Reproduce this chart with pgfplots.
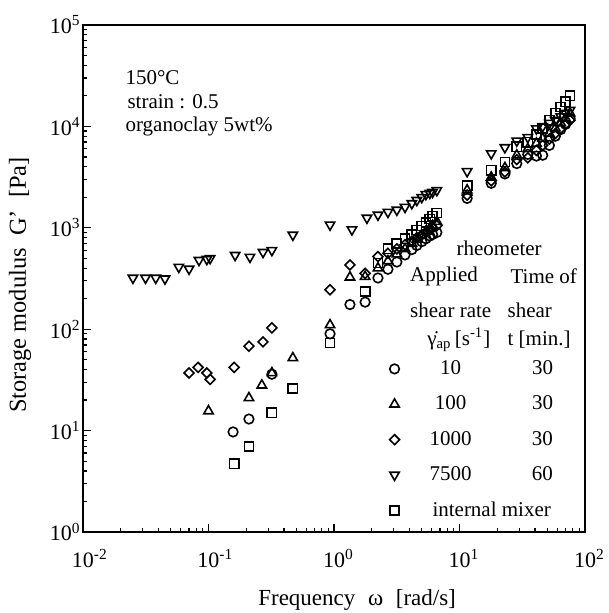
\documentclass[border=0pt]{standalone}
\usepackage{pgfplots}
\pgfplotsset{compat=1.18}
\usepackage{fontspec}
\setmainfont{Liberation Serif}

\pgfplotstableread{
x y
0.157 9.7
0.21 13
0.32 36
0.93 90
1.34 175
1.77 185
2.24 320
2.69 390
3.17 460
3.68 540
4.17 610
4.57 670
5.0 730
5.4 780
5.8 830
6.1 860
6.6 900
11.5 1950
17.9 2750
23 3400
28.6 4300
35 5300
41 5100
46 5200
52 6500
58 8000
64 9300
70 10500
76 12000
}\circdata

\pgfplotstableread{
x y
0.10 15.6
0.21 21
0.266 28
0.32 37
0.47 52
0.93 110
1.34 325
1.77 330
2.24 400
2.69 470
3.17 550
3.68 620
4.17 700
4.57 770
5.0 850
5.4 920
5.8 990
6.1 1050
6.6 1150
11.5 2350
17.9 3150
23 3900
28.6 5200
35 6000
41 6800
46 7600
52 8500
58 9600
64 10800
70 12000
76 13500
}\tridata

\pgfplotstableread{
x y
0.07 37
0.0826 42
0.097 37
0.103 32
0.16 42
0.21 68
0.272 75
0.32 103
0.93 245
1.34 430
1.77 355
2.24 520
2.69 560
3.17 620
3.68 680
4.17 740
4.57 800
5.0 850
5.4 900
5.8 950
6.1 1000
6.6 1050
11.5 2100
17.9 2900
23 3550
28.6 4700
35 4900
41 5800
46 6500
52 7500
58 8500
64 9500
70 10500
76 11500
}\diadata

\pgfplotstableread{
x y
0.025 320
0.0315 320
0.038 320
0.045 315
0.058 410
0.07 393
0.084 479
0.097 490
0.103 500
0.163 537
0.214 515
0.272 575
0.32 600
0.47 850
0.93 1070
1.39 960
1.83 1250
2.24 1340
2.69 1430
3.17 1500
3.68 1600
4.17 1740
4.57 1870
5.0 2000
5.4 2140
5.8 2200
6.1 2250
6.6 2340
11.5 3600
17.9 5400
23 6200
28.6 7200
35 7800
41 9500
46 10000
52 10800
58 11500
64 12500
70 13500
76 14500
}\dtridata

\pgfplotstableread{
x y
0.16 4.7
0.21 7.0
0.32 15
0.47 26
0.93 73
1.77 235
2.24 450
2.69 620
3.17 700
3.68 780
4.17 860
4.57 950
5.0 1040
5.4 1130
5.8 1220
6.1 1300
6.6 1400
11.5 2600
17.9 3700
23 4450
28.6 6300
35 7000
41 8300
46 9500
52 11500
58 13500
64 15500
70 17500
76 20000
}\sqdata

\begin{document}
\begin{tikzpicture}
\begin{axis}[name=ax, scale only axis, width=251pt, height=253.5pt,
  xmode=log, ymode=log, xmin=0.01, xmax=100, ymin=1, ymax=100000,
  xtick={0.01,0.1,1,10,100},
  xticklabels={10\rlap{\textsuperscript{-2}},10\rlap{\textsuperscript{-1}},10\rlap{\textsuperscript{0}},10\rlap{\textsuperscript{1}},10\rlap{\textsuperscript{2}}},
  ytick={1,10,100,1000,10000,100000},
  yticklabels={10\textsuperscript{0},10\textsuperscript{1},10\textsuperscript{2},10\textsuperscript{3},10\textsuperscript{4},10\textsuperscript{5}},
  tick align=inside, xtick pos=bottom, ytick pos=left,
  major tick length=4pt, minor tick length=2pt,
  axis line style={line width=0.9pt},
  tick style={black, line width=0.6pt},
  ticklabel style={font=\fontsize{11}{13}\selectfont},
  yticklabel style={inner xsep=1pt},
  xticklabel style={yshift=-5pt},
  xlabel={Frequency\hspace{0.55em}ω\hspace{0.55em}[rad/s]},
  ylabel={Storage modulus\hspace{0.5em}G'\hspace{0.5em}[Pa]},
  xlabel style={font=\fontsize{11.5}{14}\selectfont, at={(axis description cs:0.546,-0.134)}, anchor=center},
  ylabel style={font=\fontsize{12.2}{14}\selectfont, at={(axis description cs:-0.1255,0.487)}, anchor=center},
  legend style={draw=none, fill=none, at={(axis description cs:0.598,0.355)}, anchor=north west,
    font=\fontsize{10.5}{12}\selectfont, row sep=5.2pt},
  legend cell align=left,
]
\addplot[black, only marks, mark=o, mark size=2.4pt, line width=0.8pt] table {\circdata};
\addlegendentry{\hspace*{14.5pt}\makebox[18pt]{10}\makebox[74pt]{30}}
\addplot[black, only marks, mark=triangle, mark size=2.7pt, line width=0.8pt] table {\tridata};
\addlegendentry{\hspace*{14.5pt}\makebox[18pt]{100}\makebox[74pt]{30}}
\addplot[black, only marks, mark=square, mark options={rotate=45}, mark size=1.75pt, line width=0.8pt] table {\diadata};
\addlegendentry{\hspace*{14.5pt}\makebox[18pt]{1000}\makebox[74pt]{30}}
\addplot[black, only marks, mark=triangle, mark options={rotate=180}, mark size=2.7pt, line width=0.8pt] table {\dtridata};
\addlegendentry{\hspace*{14.5pt}\makebox[18pt]{7500}\makebox[74pt]{60}}
\addplot[black, only marks, mark=square, mark size=2.3pt, line width=0.8pt] table {\sqdata};
\addlegendentry{\hspace*{14.5pt}internal mixer}

\begin{scope}[every node/.style={font=\fontsize{10.5}{12}\selectfont, inner sep=0pt}]
\node[anchor=west] at (axis description cs:0.084,0.897) {150°C};
\node[anchor=west] at (axis description cs:0.088,0.848) {strain : 0.5};
\node[anchor=west] at (axis description cs:0.084,0.799) {organoclay 5wt\%};
\node at (axis description cs:0.829,0.560) {rheometer};
\node[anchor=west] at (axis description cs:0.651,0.505) {Applied};
\node[anchor=west] at (axis description cs:0.651,0.438) {shear rate};
\node[anchor=west] at (axis description cs:0.685,0.379) {\.{γ}\textsubscript{ap}\,[s\textsuperscript{-1}]};
\node[anchor=west] at (axis description cs:0.851,0.505) {Time of};
\node[anchor=west] at (axis description cs:0.845,0.438) {shear};
\node[anchor=west] at (axis description cs:0.845,0.379) {t [min.]};
\end{scope}
\end{axis}
\pgfresetboundingbox
\path[use as bounding box] ([xshift=-41.5pt,yshift=-40.5pt]ax.south west) rectangle ([xshift=11.5pt,yshift=12.5pt]ax.north east);
\end{tikzpicture}
\end{document}
